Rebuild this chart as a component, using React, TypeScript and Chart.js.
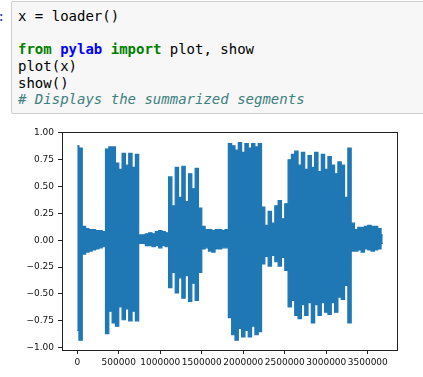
import React, { useEffect, useRef } from "react";
import { Chart, registerables } from "chart.js";

Chart.register(...registerables);

// sample index spacing between envelope readings
const SAMPLE_STEP = 40000;

// upper envelope of the signal, one reading per SAMPLE_STEP samples
const upperEnvelope = [
  0.88, 0.86, 0.13, 0.11, 0.1, 0.1, 0.09, 0.09, 0.08,
  0.85, 0.87, 0.87, 0.72, 0.66, 0.81, 0.7, 0.81, 0.68, 0.8,
  0.05, 0.05, 0.06, 0.07, 0.06, 0.08, 0.09, 0.08, 0.07,
  0.59, 0.32, 0.68, 0.4, 0.69, 0.36, 0.62, 0.48, 0.67, 0.3,
  0.13, 0.1, 0.1, 0.09, 0.1, 0.1, 0.09, 0.1,
  0.9, 0.88, 0.84, 0.91, 0.82, 0.9, 0.86, 0.9, 0.87, 0.9,
  0.31, 0.14, 0.27, 0.16, 0.32, 0.37, 0.2, 0.34,
  0.75, 0.8, 0.83, 0.7, 0.82, 0.66, 0.79, 0.68, 0.82, 0.64,
  0.8, 0.66, 0.78, 0.7, 0.62, 0.73, 0.7, 0.4, 0.86,
  0.16, 0.1, 0.12, 0.12, 0.13, 0.14, 0.13, 0.13, 0.11, 0.05,
];

// lower envelope of the signal, same sample positions
const lowerEnvelope = [
  -0.84, -0.93, -0.13, -0.11, -0.1, -0.09, -0.08, -0.07, -0.06,
  -0.87, -0.66, -0.77, -0.8, -0.62, -0.74, -0.64, -0.75, -0.66, -0.75,
  -0.03, -0.03, -0.05, -0.05, -0.06, -0.05, -0.07, -0.05, -0.06,
  -0.44, -0.3, -0.49, -0.35, -0.54, -0.33, -0.57, -0.4, -0.56, -0.3,
  -0.08, -0.07, -0.1, -0.11, -0.08, -0.08, -0.07, -0.07,
  -0.72, -0.88, -0.93, -0.82, -0.9, -0.84, -0.9, -0.8, -0.88, -0.85,
  -0.22, -0.15, -0.24, -0.14, -0.2, -0.24, -0.16, -0.28,
  -0.62, -0.56, -0.7, -0.73, -0.6, -0.7, -0.58, -0.77, -0.6, -0.7,
  -0.58, -0.67, -0.69, -0.58, -0.67, -0.53, -0.55, -0.42, -0.77,
  -0.1, -0.1, -0.09, -0.11, -0.08, -0.09, -0.1, -0.09, -0.08, -0.03,
];

const xTicks = [0, 500000, 1000000, 1500000, 2000000, 2500000, 3000000, 3500000];
const yTicks = [-1, -0.75, -0.5, -0.25, 0, 0.25, 0.5, 0.75, 1];

const X_MIN = -184000;
const X_MAX = 3852000;
const Y_MIN = -1.022;
const Y_MAX = 1.009;

const BLUE = "#1f77b4";
const TICK_FONT = { family: "'DejaVu Sans', sans-serif", size: 9 };

const frame = {
  id: "frame",
  afterDatasetsDraw(chart: any) {
    const { ctx, chartArea } = chart;
    ctx.save();
    ctx.strokeStyle = "#222";
    ctx.lineWidth = 1;
    ctx.strokeRect(
      Math.round(chartArea.left) + 0.5,
      Math.round(chartArea.top) + 0.5,
      Math.round(chartArea.right - chartArea.left),
      Math.round(chartArea.bottom - chartArea.top)
    );
    ctx.restore();
  },
};

function WaveChart() {
  const ref = useRef<HTMLCanvasElement | null>(null);
  useEffect(() => {
    if (!ref.current) return;
    const upper = upperEnvelope.map((v, i) => ({ x: i * SAMPLE_STEP, y: v }));
    const lower = lowerEnvelope.map((v, i) => ({ x: i * SAMPLE_STEP, y: v }));
    const fmtY = (v: number) => (v < 0 ? "\u2212" + Math.abs(v).toFixed(2) : v.toFixed(2));
    const chart = new Chart(ref.current, {
      type: "line",
      data: {
        datasets: [
          {
            data: upper,
            borderColor: BLUE,
            backgroundColor: BLUE,
            borderWidth: 1.2,
            pointRadius: 0,
            stepped: "middle",
            fill: "+1",
          },
          {
            data: lower,
            borderColor: BLUE,
            backgroundColor: BLUE,
            borderWidth: 1.2,
            pointRadius: 0,
            stepped: "middle",
            fill: false,
          },
        ],
      },
      options: {
        animation: false,
        responsive: false,
        maintainAspectRatio: false,
        events: [],
        layout: { padding: { left: 0, right: 26, top: 12, bottom: 0 } },
        plugins: { legend: { display: false }, tooltip: { enabled: false } },
        scales: {
          x: {
            type: "linear",
            min: X_MIN,
            max: X_MAX,
            afterBuildTicks: (s: any) => {
              s.ticks = xTicks.map((v) => ({ value: v }));
            },
            afterFit: (s: any) => {
              s.height = 27;
            },
            ticks: {
              autoSkip: false,
              maxRotation: 0,
              minRotation: 0,
              padding: 3,
              color: "#111",
              font: TICK_FONT,
              callback: (v: any) => String(v),
            },
            grid: {
              drawOnChartArea: false,
              drawTicks: true,
              tickLength: 4,
              tickColor: "#222",
            },
            border: { display: true, color: "#222", width: 1 },
          },
          y: {
            type: "linear",
            min: Y_MIN,
            max: Y_MAX,
            afterBuildTicks: (s: any) => {
              s.ticks = yTicks.map((v) => ({ value: v }));
            },
            afterFit: (s: any) => {
              s.width = 62;
            },
            ticks: {
              autoSkip: false,
              padding: 4,
              color: "#111",
              font: TICK_FONT,
              callback: (v: any) => fmtY(Number(v)),
            },
            grid: {
              drawOnChartArea: false,
              drawTicks: true,
              tickLength: 4,
              tickColor: "#222",
            },
            border: { display: true, color: "#222", width: 1 },
          },
        },
      },
      plugins: [frame],
    } as any);
    return () => chart.destroy();
  }, []);
  return (
    <canvas
      ref={ref}
      width={423}
      height={257}
      style={{ position: "absolute", left: 0, top: 120, width: 423, height: 257 }}
    />
  );
}

const mono = "'DejaVu Sans Mono', monospace";

export default function App() {
  return (
    <div
      style={{
        position: "fixed",
        left: 0,
        top: 0,
        width: 423,
        height: 377,
        background: "#fff",
        overflow: "hidden",
      }}
    >
      <div
        style={{
          position: "absolute",
          left: -3,
          top: 8,
          fontFamily: mono,
          fontSize: 14,
          lineHeight: "17px",
          color: "#303f9f",
        }}
      >
        :
      </div>
      <div
        style={{
          position: "absolute",
          left: 11,
          top: 1,
          width: 440,
          height: 113,
          border: "1px solid #cfcfcf",
          borderRadius: 2,
          background: "#f7f7f7",
          boxSizing: "border-box",
        }}
      />
      <pre
        style={{
          position: "absolute",
          left: 18,
          top: 8,
          margin: 0,
          fontFamily: mono,
          fontSize: 14,
          lineHeight: "16.67px",
          color: "#000",
        }}
      >
        {"x = loader()\n\n"}
        <span style={{ color: "#008000", fontWeight: "bold" }}>from</span>{" "}
        <span style={{ color: "#0000ff", fontWeight: "bold" }}>pylab</span>{" "}
        <span style={{ color: "#008000", fontWeight: "bold" }}>import</span>
        {" plot, show\nplot(x)\nshow()\n"}
        <span style={{ color: "#408080", fontStyle: "italic" }}># Displays the summarized segments</span>
      </pre>
      <WaveChart />
    </div>
  );
}
